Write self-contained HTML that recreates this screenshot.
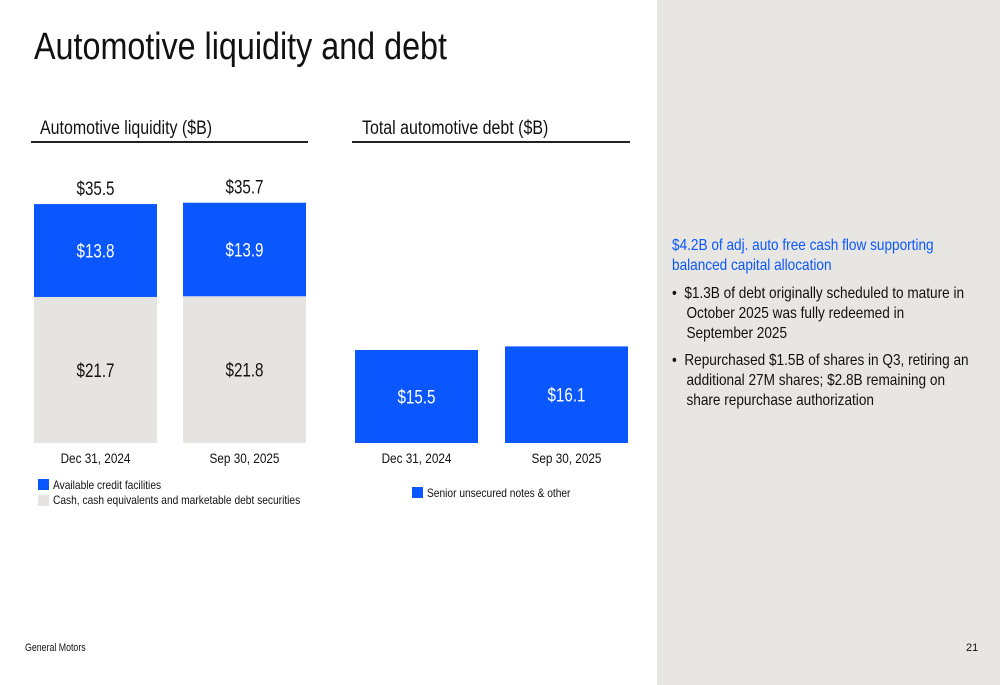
<!DOCTYPE html>
<html><head><meta charset="utf-8"><style>
body{margin:0;width:1000px;height:685px;background:#fff;position:relative;overflow:hidden;font-family:"Liberation Sans",sans-serif;color:#111}
.a{position:absolute;transform-origin:0 0;white-space:nowrap}
.n{transform:scaleX(0.85)}
.w{white-space:normal}
</style></head><body>
<div class="a" style="left:657px;top:0;width:343px;height:685px;background:#e8e6e3"></div>
<div class="a n" style="left:34px;top:26px;font-size:38px;transform:scaleX(0.85)">Automotive liquidity and debt</div>
<div class="a n" style="left:40px;top:118px;font-size:19px;transform:scaleX(0.84)">Automotive liquidity ($B)</div>
<div class="a" style="left:31px;top:141px;width:277px;height:2px;background:#222"></div>
<div class="a n" style="left:362px;top:118px;font-size:19px;transform:scaleX(0.84)">Total automotive debt ($B)</div>
<div class="a" style="left:352px;top:141px;width:278px;height:2px;background:#222"></div>
<svg class="a" style="left:0;top:0" width="657" height="685" id="chart"></svg>
<div class="a" style="left:38px;top:479px;width:11px;height:11px;background:#0a57ff"></div>
<div class="a n" style="left:53px;top:478px;font-size:12px">Available credit facilities</div>
<div class="a" style="left:38px;top:495px;width:11px;height:11px;background:#e6e4e0"></div>
<div class="a n" style="left:53px;top:493px;font-size:12px">Cash, cash equivalents and marketable debt securities</div>
<div class="a" style="left:412px;top:487px;width:11px;height:11px;background:#0a57ff"></div>
<div class="a n" style="left:427px;top:486px;font-size:12px">Senior unsecured notes &amp; other</div>
<div class="a n w" style="left:672px;top:236px;width:335px;font-size:16px;line-height:20px;color:#0a57ff">$4.2B of adj. auto free cash flow supporting<br>balanced capital allocation</div>
<div class="a n w" style="left:672px;top:284px;width:360px;font-size:16px;line-height:20px;padding-left:17px;text-indent:-17px">•&nbsp;&nbsp;$1.3B of debt originally scheduled to mature in<br>October 2025 was fully redeemed in<br>September 2025</div>
<div class="a n w" style="left:672px;top:351px;width:360px;font-size:16px;line-height:20px;padding-left:17px;text-indent:-17px">•&nbsp;&nbsp;Repurchased $1.5B of shares in Q3, retiring an<br>additional 27M shares; $2.8B remaining on<br>share repurchase authorization</div>
<div class="a" style="left:25px;top:642px;font-size:11px;transform:scaleX(0.8)">General Motors</div>
<div class="a" style="left:966px;top:642px;font-size:11px">21</div>
<script>
const categories=["Dec 31, 2024","Sep 30, 2025"];
const cashValues=[21.7,21.8];
const creditValues=[13.8,13.9];
const totalLiquidity=[35.5,35.7];
const debtValues=[15.5,16.1];
const svg=document.getElementById('chart');
const NS='http://www.w3.org/2000/svg';
const base=443;
const yL=v=>base-v*6.73;
const yD=v=>base-v*6.0;
function rect(x,y,w,h,f,name){const r=document.createElementNS(NS,'rect');r.setAttribute('x',x);r.setAttribute('y',y);r.setAttribute('width',w);r.setAttribute('height',h);r.setAttribute('fill',f);


svg.appendChild(r);}
function text(x,y,s,sz,c,name,sx){const t=document.createElementNS(NS,'text');t.setAttribute('x',x);t.setAttribute('y',y);t.setAttribute('text-anchor','middle');t.setAttribute('font-size',sz);t.setAttribute('fill',c);t.setAttribute('transform','translate('+x+',0) scale('+sx+',1) translate('+(-x)+',0)');t.textContent=s;


svg.appendChild(t);}
const lx=[34,183],dx=[355,505],bw=123;
categories.forEach((c,i)=>{
  const cx=lx[i]+bw/2;
  rect(lx[i],yL(cashValues[i]),bw,base-yL(cashValues[i]),'#e6e4e0','cash-bar');
  rect(lx[i],yL(cashValues[i]+creditValues[i]),bw,yL(cashValues[i])-yL(cashValues[i]+creditValues[i]),'#0a57ff','credit-bar');
  text(cx,(yL(cashValues[i])+base)/2+7,'$'+cashValues[i].toFixed(1),19,'#111','cash-value',0.8);
  text(cx,(yL(cashValues[i])+yL(cashValues[i]+creditValues[i]))/2+7,'$'+creditValues[i].toFixed(1),19,'#fff','credit-value',0.8);
  text(cx,yL(totalLiquidity[i])-9,'$'+totalLiquidity[i].toFixed(1),19,'#111','total-value',0.8);
  text(cx,463,c,14,'#111','liquidity-x-label',0.84);
  const dcx=dx[i]+bw/2;
  rect(dx[i],yD(debtValues[i]),bw,base-yD(debtValues[i]),'#0a57ff','debt-bar');
  text(dcx,(yD(debtValues[i])+base)/2+7,'$'+debtValues[i].toFixed(1),19,'#fff','debt-value',0.8);
  text(dcx,463,c,14,'#111','debt-x-label',0.84);
});
</script>
</body></html>
